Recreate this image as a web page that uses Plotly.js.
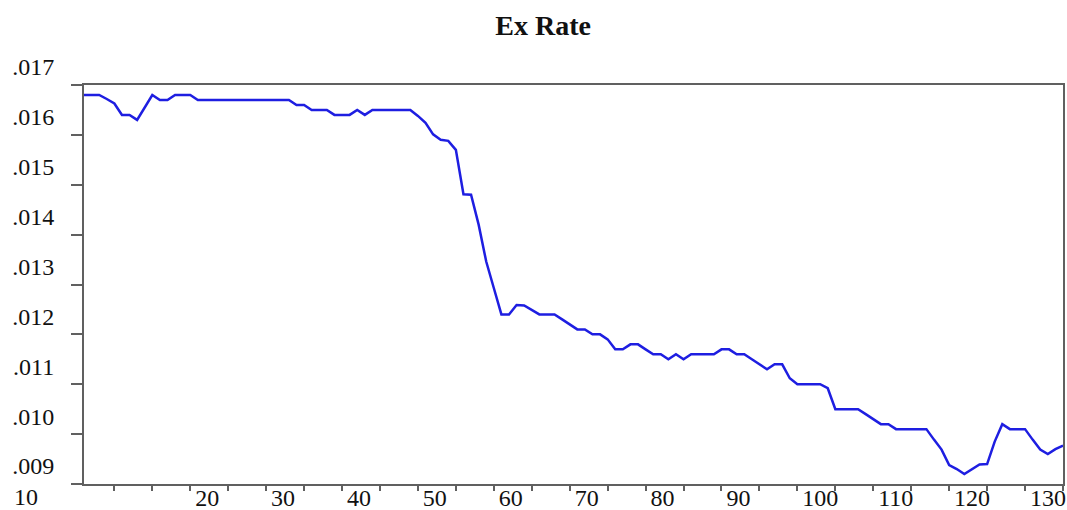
<!DOCTYPE html>
<html>
<head>
<meta charset="utf-8">
<script src="https://cdn.plot.ly/plotly-3.0.1.min.js"></script>
<style>html,body{margin:0;padding:0;background:#fff;}#chart{width:1067px;height:510px;}</style>
</head>
<body>
<div id="chart"></div>
<script>
// Observation numbers 1..130
var obs = [];
for (var i = 1; i <= 130; i++) obs.push(i);

// Ex Rate values (obs 1..130)
var exRate = [
  0.0168, 0.0168, 0.0168, 0.01672, 0.01663, 0.0164, 0.0164, 0.0163, 0.01655, 0.0168,
  0.0167, 0.0167, 0.0168, 0.0168, 0.0168, 0.0167, 0.0167, 0.0167, 0.0167, 0.0167,
  0.0167, 0.0167, 0.0167, 0.0167, 0.0167, 0.0167, 0.0167, 0.0167, 0.0166, 0.0166,
  0.0165, 0.0165, 0.0165, 0.0164, 0.0164, 0.0164, 0.0165, 0.0164, 0.0165, 0.0165,
  0.0165, 0.0165, 0.0165, 0.0165, 0.01638, 0.01624, 0.01601, 0.0159, 0.01588, 0.0157,
  0.01481, 0.0148, 0.0142, 0.01346, 0.01293, 0.0124, 0.0124, 0.01259, 0.01258, 0.01249,
  0.0124, 0.0124, 0.0124, 0.0123, 0.0122, 0.0121, 0.0121, 0.0120, 0.0120, 0.0119,
  0.0117, 0.0117, 0.0118, 0.0118, 0.0117, 0.0116, 0.0116, 0.0115, 0.0116, 0.0115,
  0.0116, 0.0116, 0.0116, 0.0116, 0.0117, 0.0117, 0.0116, 0.0116, 0.0115, 0.0114,
  0.0113, 0.0114, 0.0114, 0.01112, 0.0110, 0.0110, 0.0110, 0.0110, 0.01092, 0.0105,
  0.0105, 0.0105, 0.0105, 0.0104, 0.0103, 0.0102, 0.0102, 0.0101, 0.0101, 0.0101,
  0.0101, 0.0101, 0.00989, 0.00969, 0.00938, 0.0093, 0.0092, 0.0093, 0.00939, 0.0094,
  0.00985, 0.0102, 0.0101, 0.0101, 0.0101, 0.00989, 0.00969, 0.0096, 0.0097, 0.00977
];

// Tick values and labels
var yTickVals = [0.017, 0.016, 0.015, 0.014, 0.013, 0.012, 0.011, 0.010, 0.009];
var yTickText = ['.017', '.016', '.015', '.014', '.013', '.012', '.011', '.010', '.009'];
var xTickVals = [5, 10, 15, 20, 25, 30, 35, 40, 45, 50, 55, 60, 65, 70, 75, 80, 85, 90, 95, 100, 105, 110, 115, 120, 125, 130];
var xTickText = ['', '', '', '20', '', '30', '', '40', '', '50', '', '60', '', '70', '', '80', '', '90', '', '100', '', '110', '', '120', '', '130'];
var firstXLabel = '10';
var chartTitle = 'Ex Rate';

var serif = "'Liberation Serif', 'Times New Roman', serif";

var trace = {
  x: obs,
  y: exRate,
  type: 'scatter',
  mode: 'lines',
  line: {color: 'rgb(30,30,225)', width: 2.5},
  hoverinfo: 'x+y'
};

var layout = {
  width: 1067,
  height: 510,
  margin: {l: 84, r: 4, t: 85, b: 26, pad: 0},
  paper_bgcolor: '#ffffff',
  plot_bgcolor: '#ffffff',
  showlegend: false,
  title: {
    text: '<b>' + chartTitle + '</b>',
    font: {family: serif, size: 28, color: '#111'},
    x: 0.509, xref: 'container', xanchor: 'center',
    y: 0.951, yref: 'container', yanchor: 'middle'
  },
  xaxis: {
    range: [1, 130],
    showgrid: false,
    zeroline: false,
    showline: true,
    linecolor: '#606060',
    linewidth: 2,
    mirror: true,
    ticks: 'outside',
    ticklen: 5,
    tickwidth: 2,
    tickcolor: '#606060',
    tickvals: xTickVals,
    ticktext: xTickText,
    ticklabelposition: 'outside right',
    ticklabelshift: -35,
    ticklabelstandoff: -9,
    tickfont: {family: serif, size: 24, color: '#111'},
    fixedrange: true
  },
  yaxis: {
    range: [0.009, 0.017],
    showgrid: false,
    zeroline: false,
    showline: true,
    linecolor: '#606060',
    linewidth: 2,
    mirror: true,
    ticks: 'outside',
    ticklen: 11,
    tickwidth: 2,
    tickcolor: '#606060',
    tickvals: yTickVals,
    ticktext: yTickText,
    ticklabelshift: -18,
    ticklabelstandoff: 12,
    tickfont: {family: serif, size: 24, color: '#111'},
    fixedrange: true
  },
  annotations: [{
    text: firstXLabel,
    xref: 'paper', yref: 'paper',
    x: -0.0735, y: -0.0326,
    xanchor: 'left', yanchor: 'middle',
    showarrow: false,
    font: {family: serif, size: 24, color: '#111'}
  }]
};

Plotly.newPlot('chart', [trace], layout, {displayModeBar: false, staticPlot: true});
</script>
</body>
</html>
